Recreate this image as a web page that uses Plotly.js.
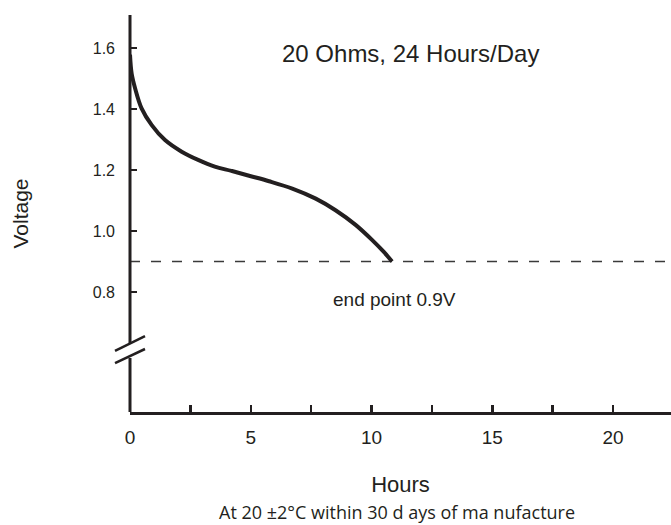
<!DOCTYPE html>
<html>
<head>
<meta charset="utf-8">
<script src="https://cdn.plot.ly/plotly-3.0.1.min.js"></script>
<style>html,body{margin:0;padding:0;background:#fff;}#chart{width:671px;height:525px;}</style>
</head>
<body>
<div id="chart"></div>
<script>
// Discharge curve data
var hours = [0, 0.07, 0.21, 0.48, 0.9, 1.45, 2.14, 2.82, 3.51, 4.2, 4.93, 5.76, 6.72, 7.69, 8.51, 9.34, 10.03, 10.5, 10.85];
var voltage = [1.578, 1.515, 1.468, 1.402, 1.347, 1.298, 1.260, 1.233, 1.211, 1.197, 1.181, 1.163, 1.139, 1.106, 1.068, 1.020, 0.970, 0.932, 0.90];

var endPointVoltage = 0.9;
var hourTicks = [0, 2.5, 5, 7.5, 10, 12.5, 15, 17.5, 20];
var hourTickLabels = ['0', '', '5', '', '10', '', '15', '', '20'];
var voltTicks = [0.8, 1.0, 1.2, 1.4, 1.6];
var voltTickLabels = ['0.8', '1.0', '1.2', '1.4', '1.6'];

var ink = '#231f20';
var xRange = [0, 22.4];
var yRange = [0.4066, 1.708];

var traces = [
  {
    x: [xRange[0], xRange[1]],
    y: [endPointVoltage, endPointVoltage],
    mode: 'lines',
    line: {color: '#3a3a3a', width: 1.3, dash: '10px,11px'},
    hoverinfo: 'skip',
    showlegend: false
  },
  {
    x: hours,
    y: voltage,
    mode: 'lines',
    line: {color: ink, width: 4, shape: 'spline', smoothing: 1},
    showlegend: false
  }
];

var layout = {
  width: 671,
  height: 525,
  margin: {l: 130, r: 0, t: 15, b: 113},
  paper_bgcolor: '#fff',
  plot_bgcolor: '#fff',
  font: {family: 'Liberation Sans, Arial, sans-serif', color: ink},
  xaxis: {
    range: xRange,
    showgrid: false,
    zeroline: false,
    showline: true,
    linecolor: ink,
    linewidth: 3,
    ticks: 'inside',
    ticklen: 7,
    tickwidth: 2.5,
    tickcolor: ink,
    tickvals: hourTicks,
    ticktext: hourTickLabels,
    tickfont: {size: 19, color: ink},
    ticklabelstandoff: 6,
    title: {text: 'Hours', font: {size: 22, color: ink}, standoff: 30}
  },
  yaxis: {
    range: yRange,
    showgrid: false,
    zeroline: false,
    showline: false,
    ticks: 'inside',
    ticklen: 7,
    tickwidth: 2.5,
    tickcolor: ink,
    tickvals: voltTicks,
    ticktext: voltTickLabels,
    tickfont: {size: 16, color: ink},
    ticklabelstandoff: 14,
    title: {text: 'Voltage', font: {size: 21, color: ink}, standoff: 58}
  },
  shapes: [
    // y-axis line, broken by the scale-break mark
    {type: 'line', xref: 'paper', yref: 'paper', x0: 0, x1: 0, y0: 0.1738, y1: 1, line: {color: ink, width: 3}},
    {type: 'line', xref: 'paper', yref: 'paper', x0: 0, x1: 0, y0: 0, y1: 0.136, line: {color: ink, width: 3}},
    // break slashes
    {type: 'line', xref: 'paper', yref: 'paper', x0: -0.0277, x1: 0.0277, y0: 0.1537, y1: 0.1914, line: {color: ink, width: 2.5}},
    {type: 'line', xref: 'paper', yref: 'paper', x0: -0.0277, x1: 0.0277, y0: 0.1234, y1: 0.1587, line: {color: ink, width: 2.5}}
  ],
  annotations: [
    {text: '20 Ohms, 24 Hours/Day', xref: 'paper', yref: 'paper', x: (410 - 130) / 541, y: (412 - 54) / 397,
     xanchor: 'center', yanchor: 'middle', showarrow: false, font: {size: 24, color: ink}},
    {text: 'end point 0.9V', xref: 'paper', yref: 'paper', x: (394 - 130) / 541, y: (412 - 299) / 397,
     xanchor: 'center', yanchor: 'middle', showarrow: false, font: {size: 19, color: ink}},
    {text: 'At 20 \u00b12\u00b0C within 30 d ays of ma nufacture', xref: 'paper', yref: 'paper', x: (397 - 130) / 541, y: (412 - 512) / 397,
     xanchor: 'center', yanchor: 'middle', showarrow: false, borderpad: 0, font: {family: 'Open Sans, Lato, sans-serif', size: 18, color: ink}}
  ]
};

Plotly.newPlot('chart', traces, layout, {displayModeBar: false, staticPlot: true});
</script>
</body>
</html>
